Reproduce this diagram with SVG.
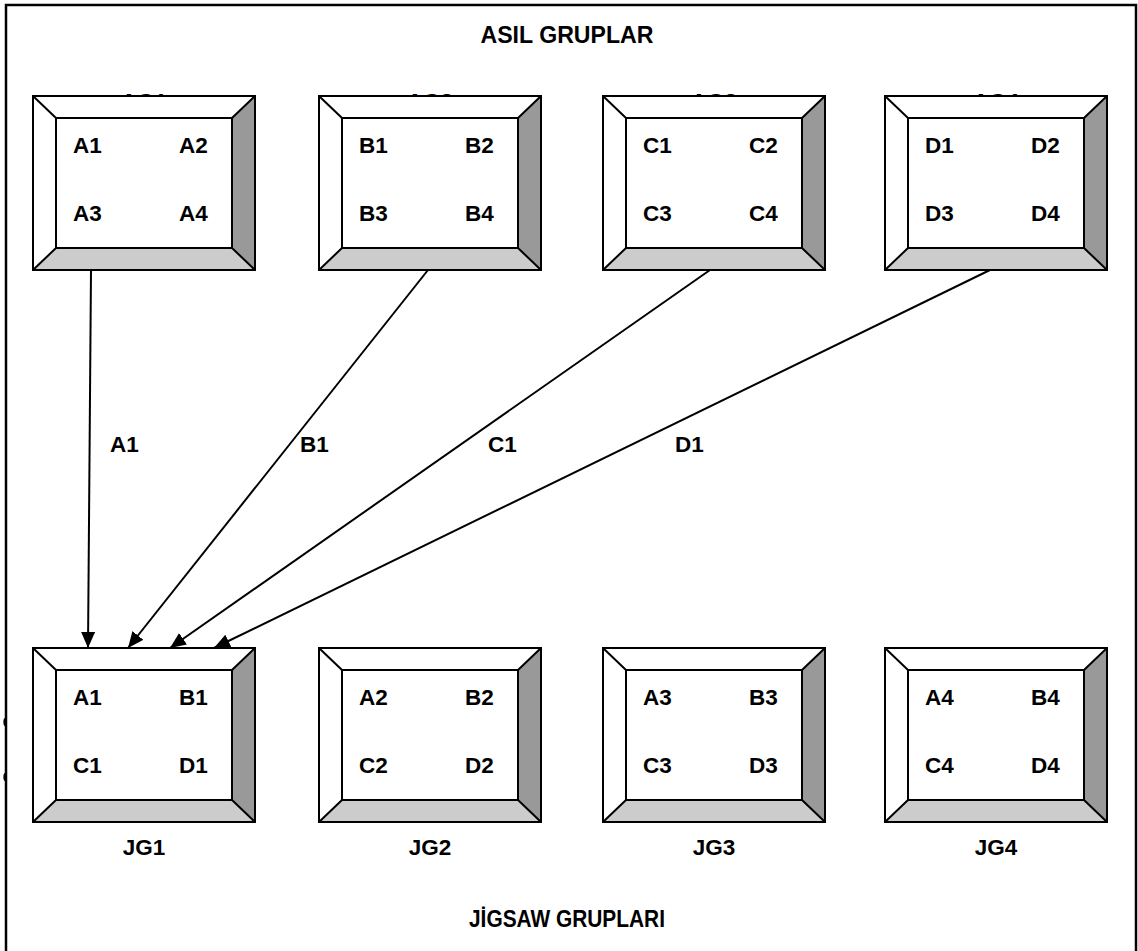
<svg xmlns="http://www.w3.org/2000/svg" xmlns:xlink="http://www.w3.org/1999/xlink" width="1138" height="951" viewBox="0 0 1138 951">
  <style>
    .t { font-family: "Liberation Sans", Arial, sans-serif; font-weight: bold; fill: #000; }
    .cell { font-size: 22.5px; }
    .title { font-size: 24px; }
    .edge { stroke: #000; stroke-width: 2; fill: none; }
    .ln { stroke: #000; stroke-width: 2; }
  </style>
  <defs>
    <marker id="arrow" markerUnits="userSpaceOnUse" markerWidth="16" markerHeight="14" refX="16" refY="7" orient="auto">
      <path d="M0,0 L16,7 L0,14 z" fill="#000"/>
    </marker>
    <!-- bevelled frame, 222 x 174 -->
    <g id="frame">
      <rect x="0" y="0" width="222" height="174" fill="#fff"/>
      <polygon points="222,0 222,174 199,152 199,22" fill="#999"/>
      <polygon points="0,174 222,174 199,152 23,152" fill="#ccc"/>
      <rect x="23" y="22" width="176" height="130" fill="#fff" class="edge"/>
      <path class="edge" d="M0,0 L23,22 M222,0 L199,22 M0,174 L23,152 M222,174 L199,152"/>
      <rect x="0" y="0" width="222" height="174" class="edge"/>
    </g>
  </defs>

  <rect width="1138" height="951" fill="#fff"/>
  <!-- outer border -->
  <rect x="6" y="5" width="1130" height="1000" fill="none" stroke="#000" stroke-width="2.5"/>
  <ellipse cx="5" cy="722" rx="1.6" ry="4" fill="#000"/>
  <ellipse cx="5" cy="777" rx="1.6" ry="4" fill="#000"/>

  <text class="t title" x="567" y="43" text-anchor="middle" textLength="173" lengthAdjust="spacingAndGlyphs">ASIL GRUPLAR</text>

  <!-- group captions, drawn under the frames -->
  <g id="captions-top">
    <text class="t cell" x="144" y="109" text-anchor="middle">AG1</text>
    <text class="t cell" x="430" y="109" text-anchor="middle">AG2</text>
    <text class="t cell" x="714" y="109" text-anchor="middle">AG3</text>
    <text class="t cell" x="996" y="109" text-anchor="middle">AG4</text>
  </g>

  <g id="AG1" transform="translate(33,96)">
    <use xlink:href="#frame"/>
    <text class="t cell" x="40" y="57">A1</text><text class="t cell" x="146" y="57">A2</text>
    <text class="t cell" x="40" y="125">A3</text><text class="t cell" x="146" y="125">A4</text>
  </g>
  <g id="AG2" transform="translate(319,96)">
    <use xlink:href="#frame"/>
    <text class="t cell" x="40" y="57">B1</text><text class="t cell" x="146" y="57">B2</text>
    <text class="t cell" x="40" y="125">B3</text><text class="t cell" x="146" y="125">B4</text>
  </g>
  <g id="AG3" transform="translate(603,96)">
    <use xlink:href="#frame"/>
    <text class="t cell" x="40" y="57">C1</text><text class="t cell" x="146" y="57">C2</text>
    <text class="t cell" x="40" y="125">C3</text><text class="t cell" x="146" y="125">C4</text>
  </g>
  <g id="AG4" transform="translate(885,96)">
    <use xlink:href="#frame"/>
    <text class="t cell" x="40" y="57">D1</text><text class="t cell" x="146" y="57">D2</text>
    <text class="t cell" x="40" y="125">D3</text><text class="t cell" x="146" y="125">D4</text>
  </g>

  <g id="JG1" transform="translate(33,648)">
    <use xlink:href="#frame"/>
    <text class="t cell" x="40" y="57">A1</text><text class="t cell" x="146" y="57">B1</text>
    <text class="t cell" x="40" y="125">C1</text><text class="t cell" x="146" y="125">D1</text>
    <text class="t cell" x="111" y="207" text-anchor="middle">JG1</text>
  </g>
  <g id="JG2" transform="translate(319,648)">
    <use xlink:href="#frame"/>
    <text class="t cell" x="40" y="57">A2</text><text class="t cell" x="146" y="57">B2</text>
    <text class="t cell" x="40" y="125">C2</text><text class="t cell" x="146" y="125">D2</text>
    <text class="t cell" x="111" y="207" text-anchor="middle">JG2</text>
  </g>
  <g id="JG3" transform="translate(603,648)">
    <use xlink:href="#frame"/>
    <text class="t cell" x="40" y="57">A3</text><text class="t cell" x="146" y="57">B3</text>
    <text class="t cell" x="40" y="125">C3</text><text class="t cell" x="146" y="125">D3</text>
    <text class="t cell" x="111" y="207" text-anchor="middle">JG3</text>
  </g>
  <g id="JG4" transform="translate(885,648)">
    <use xlink:href="#frame"/>
    <text class="t cell" x="40" y="57">A4</text><text class="t cell" x="146" y="57">B4</text>
    <text class="t cell" x="40" y="125">C4</text><text class="t cell" x="146" y="125">D4</text>
    <text class="t cell" x="111" y="207" text-anchor="middle">JG4</text>
  </g>

  <!-- connectors: one member of each home group moves to JG1 -->
  <g id="connectors">
    <line class="ln" x1="91" y1="270" x2="88" y2="648" marker-end="url(#arrow)"/>
    <line class="ln" x1="428" y1="270" x2="128" y2="648" marker-end="url(#arrow)"/>
    <line class="ln" x1="710" y1="270" x2="170" y2="648" marker-end="url(#arrow)"/>
    <line class="ln" x1="990" y1="270" x2="214" y2="648" marker-end="url(#arrow)"/>
    <text class="t cell" x="110" y="452">A1</text>
    <text class="t cell" x="300" y="452">B1</text>
    <text class="t cell" x="488" y="452">C1</text>
    <text class="t cell" x="675" y="452">D1</text>
  </g>

  <text class="t title" x="567" y="927" text-anchor="middle" textLength="196" lengthAdjust="spacingAndGlyphs">JİGSAW GRUPLARI</text>
</svg>
